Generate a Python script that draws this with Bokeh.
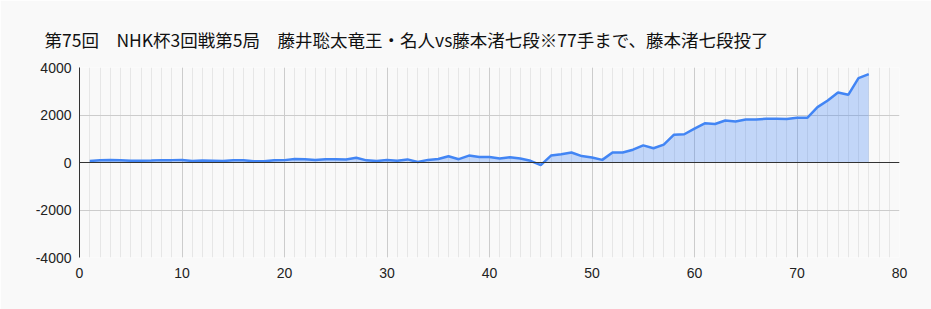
from bokeh.plotting import figure
from bokeh.models import Span, Title, FixedTicker, Range1d, CustomJSTickFormatter
from bokeh.embed import file_html
from bokeh.resources import INLINE

title_text = "第75回　NHK杯3回戦第5局　藤井聡太竜王・名人vs藤本渚七段※77手まで、藤本渚七段投了"
moves = list(range(1, 78))
scores = [60, 90, 110, 90, 70, 70, 80, 100, 100, 110,
          60, 80, 70, 60, 90, 90, 50, 50, 90, 100,
          150, 140, 110, 140, 140, 130, 200, 90, 60, 110,
          70, 130, 20, 110, 150, 260, 140, 290, 230, 230,
          170, 220, 170, 70, -110, 290, 350, 420, 270, 210,
          110, 420, 420, 540, 720, 600, 755, 1170, 1190, 1430,
          1650, 1620, 1770, 1730, 1810, 1810, 1840, 1840, 1830, 1880,
          1880, 2330, 2610, 2950, 2850, 3550, 3720]
x_ticks = [0, 10, 20, 30, 40, 50, 60, 70, 80]
y_ticks = [-4000, -2000, 0, 2000, 4000]

BG = "#f9f9f9"
p = figure(width=931, height=309, output_backend="svg", toolbar_location=None,
           x_range=Range1d(0, 80), y_range=Range1d(-4000, 4000),
           min_border_left=79, min_border_right=32, min_border_top=67, min_border_bottom=52,
           background_fill_color=BG, border_fill_color=BG)
p.outline_line_color = None

p.varea(x=moves, y1=0, y2=scores, fill_color="#4285f4", fill_alpha=0.3)
p.line(x=moves, y=scores, line_color="#4285f4", line_width=2.5)

p.add_layout(Span(location=0, dimension="width", line_color="#333333", line_width=1))

# x axis
p.xaxis.ticker = FixedTicker(ticks=x_ticks, minor_ticks=list(range(0, 81)))
p.xaxis.formatter = CustomJSTickFormatter(code="return String(tick);")
p.xaxis.axis_line_color = None
p.xaxis.major_tick_line_color = None
p.xaxis.minor_tick_line_color = None
p.xaxis.major_tick_out = 0
p.xaxis.major_label_standoff = 6
p.xaxis.major_label_text_font = "Liberation Sans"
p.xaxis.major_label_text_font_size = "14px"
p.xaxis.major_label_text_color = "#222222"

# y axis
p.yaxis.ticker = FixedTicker(ticks=y_ticks)
p.yaxis.formatter = CustomJSTickFormatter(code="return String(tick);")
p.yaxis.axis_line_color = "#333333"
p.yaxis.major_tick_line_color = None
p.yaxis.minor_tick_line_color = None
p.yaxis.major_tick_out = 0
p.yaxis.major_label_standoff = 8
p.yaxis.major_label_text_font = "Liberation Sans"
p.yaxis.major_label_text_font_size = "14px"
p.yaxis.major_label_text_color = "#222222"

p.xgrid.grid_line_color = "#cccccc"
p.xgrid.minor_grid_line_color = "#e6e6e6"
p.ygrid.grid_line_color = "#cccccc"

p.add_layout(Title(text=title_text, align="left", offset=-35, standoff=31,
                   text_font="Noto Sans CJK JP", text_font_size="17.5px",
                   text_font_style="normal", text_color="#111111"), "above")

open("out.html", "w").write(file_html(p, INLINE))
